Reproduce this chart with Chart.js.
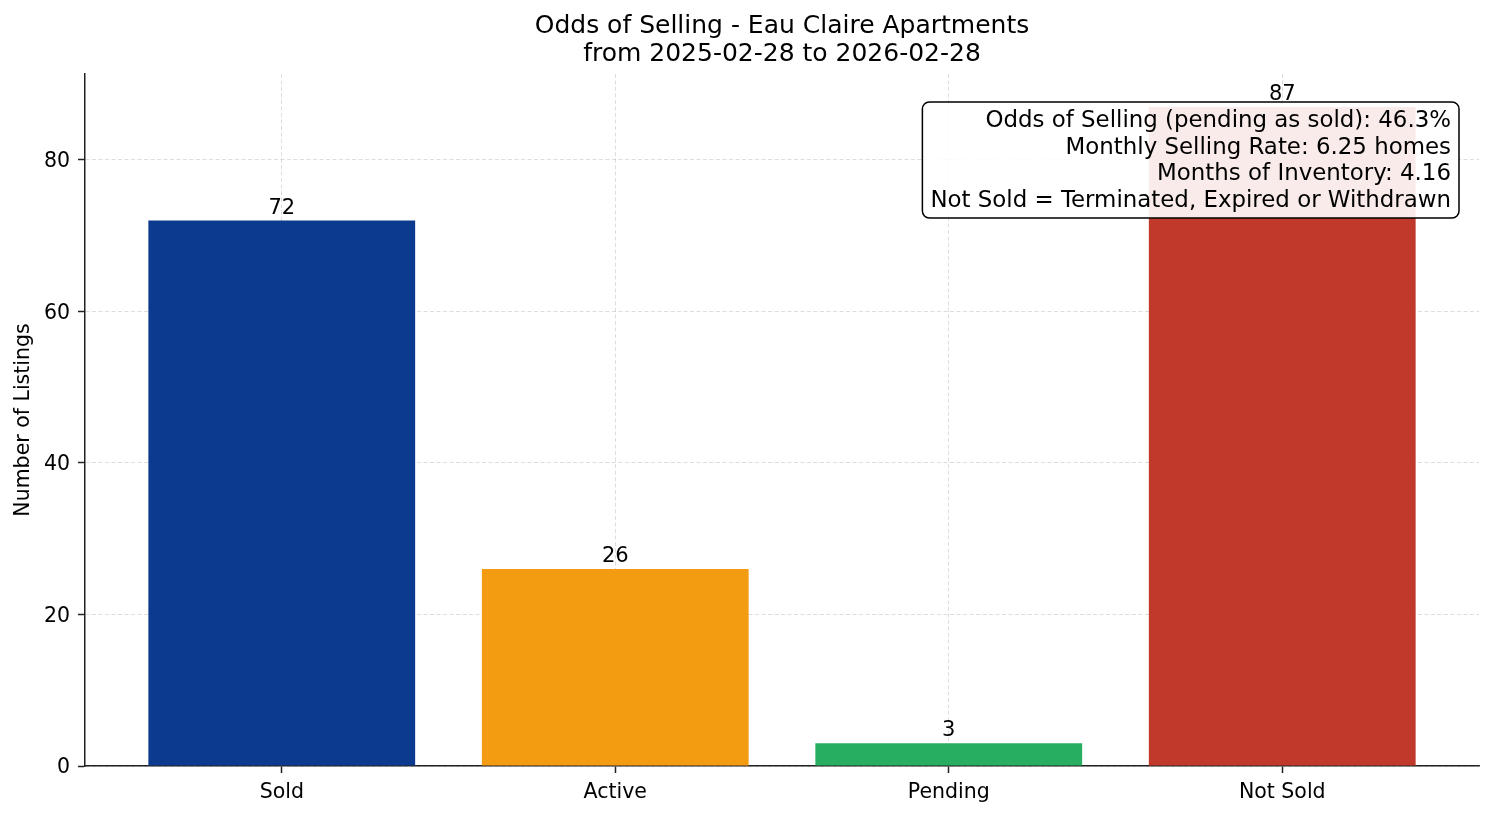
<!DOCTYPE html>
<html>
<head>
<meta charset="utf-8">
<script src="https://cdn.jsdelivr.net/npm/chart.js@4.4.1/dist/chart.umd.min.js"></script>
<style>
  body { margin: 0; background: #fff; }
  #wrap { width: 1494px; height: 816px; }
</style>
</head>
<body>
<div id="wrap"><canvas id="grafico" width="1494" height="816"></canvas></div>
<script>
  const categories = ['Sold', 'Active', 'Pending', 'Not Sold'];
  const counts = [72, 26, 3, 87];
  const barColors = ['#0b3a8e', '#f39c12', '#27ae60', '#c0392b'];
  const yTicks = [0, 20, 40, 60, 80];
  const titleLines = ['Odds of Selling - Eau Claire Apartments', 'from 2025-02-28 to 2026-02-28'];
  const infoLines = [
    'Odds of Selling (pending as sold): 46.3%',
    'Monthly Selling Rate: 6.25 homes',
    'Months of Inventory: 4.16',
    'Not Sold = Terminated, Expired or Withdrawn'
  ];

  const FONT = '"DejaVu Sans", "Liberation Sans", sans-serif';

  // labels above bars and the info box, drawn last
  const overlay = {
    id: 'overlay',
    afterDraw(chart) {
      const ctx = chart.ctx;
      const area = chart.chartArea;
      ctx.save();
      ctx.font = '21px ' + FONT;
      ctx.fillStyle = '#000';
      ctx.textAlign = 'center';
      ctx.textBaseline = 'alphabetic';
      chart.getDatasetMeta(0).data.forEach((bar, i) => {
        ctx.fillText(String(counts[i]), bar.x, bar.y - 7);
      });

      ctx.font = '22.9px ' + FONT;
      let w = 0;
      infoLines.forEach(t => { w = Math.max(w, ctx.measureText(t).width); });
      const lineH = 26.7;
      const right = area.right - 20;
      const top = area.top + 28;
      const boxW = w + 16;
      const boxH = 17 + lineH * (infoLines.length - 1) + 19;
      const left = right - boxW;
      ctx.beginPath();
      ctx.roundRect(left, top, boxW, boxH, 7);
      ctx.fillStyle = 'rgba(255,255,255,0.9)';
      ctx.fill();
      ctx.lineWidth = 1.5;
      ctx.strokeStyle = '#000';
      ctx.stroke();
      ctx.fillStyle = '#000';
      ctx.textAlign = 'right';
      ctx.textBaseline = 'middle';
      infoLines.forEach((t, i) => {
        ctx.fillText(t, right - 8, top + 19 + i * lineH);
      });
      ctx.restore();
    }
  };

  const grafico = document.getElementById('grafico');

  new Chart(grafico, {
    type: 'bar',
    data: {
      datasets: [{
        data: categories.map((c, i) => ({ x: i, y: counts[i] })),
        backgroundColor: barColors,
        borderWidth: 0,
        categoryPercentage: 1,
        barPercentage: 0.8
      }]
    },
    options: {
      responsive: false,
      animation: false,
      devicePixelRatio: 1,
      layout: { padding: { left: 0, right: 15, top: 0, bottom: 0 } },
      plugins: {
        legend: { display: false },
        tooltip: { enabled: false },
        title: {
          display: true,
          fullSize: false,
          text: titleLines,
          color: '#000',
          font: { family: FONT, size: 25, weight: 'normal', lineHeight: 1.12 },
          padding: { top: 12, bottom: 6 }
        }
      },
      scales: {
        x: {
          type: 'linear',
          min: -0.59,
          max: 3.59,
          offset: false,
          z: 1,
          afterBuildTicks(scale) {
            scale.ticks = categories.map((c, i) => ({ value: i }));
          },
          afterFit(scale) {
            scale.height = 50;
            scale.paddingLeft = 0;
            scale.paddingRight = 0;
          },
          ticks: {
            autoSkip: false,
            maxRotation: 0,
            padding: 7,
            color: '#000',
            font: { family: FONT, size: 20.5 },
            callback: (v) => categories[v]
          },
          grid: {
            offset: false,
            color: 'rgba(170,170,170,0.5)',
            lineWidth: 0.8,
            tickLength: 7,
            tickColor: '#222',
            tickWidth: 1.5
          },
          border: { display: true, color: '#222', width: 1.5, dash: [4, 2.5] }
        },
        y: {
          min: 0,
          max: 91.35,
          z: 1,
          afterBuildTicks(scale) {
            scale.ticks = yTicks.map(v => ({ value: v }));
          },
          afterFit(scale) {
            scale.width = 85;
            scale.paddingTop = 0;
            scale.paddingBottom = 0;
          },
          ticks: {
            padding: 8,
            labelOffset: 2,
            color: '#000',
            font: { family: FONT, size: 20.5 }
          },
          grid: {
            color: 'rgba(170,170,170,0.5)',
            lineWidth: 0.8,
            tickLength: 7,
            tickColor: '#222',
            tickWidth: 1.5
          },
          border: { display: true, color: '#222', width: 1.5, dash: [4, 2.5] },
          title: {
            display: true,
            text: 'Number of Listings',
            color: '#000',
            font: { family: FONT, size: 20.5 },
            padding: { top: 11, bottom: 0 }
          }
        }
      }
    },
    plugins: [overlay]
  });
</script>
</body>
</html>
